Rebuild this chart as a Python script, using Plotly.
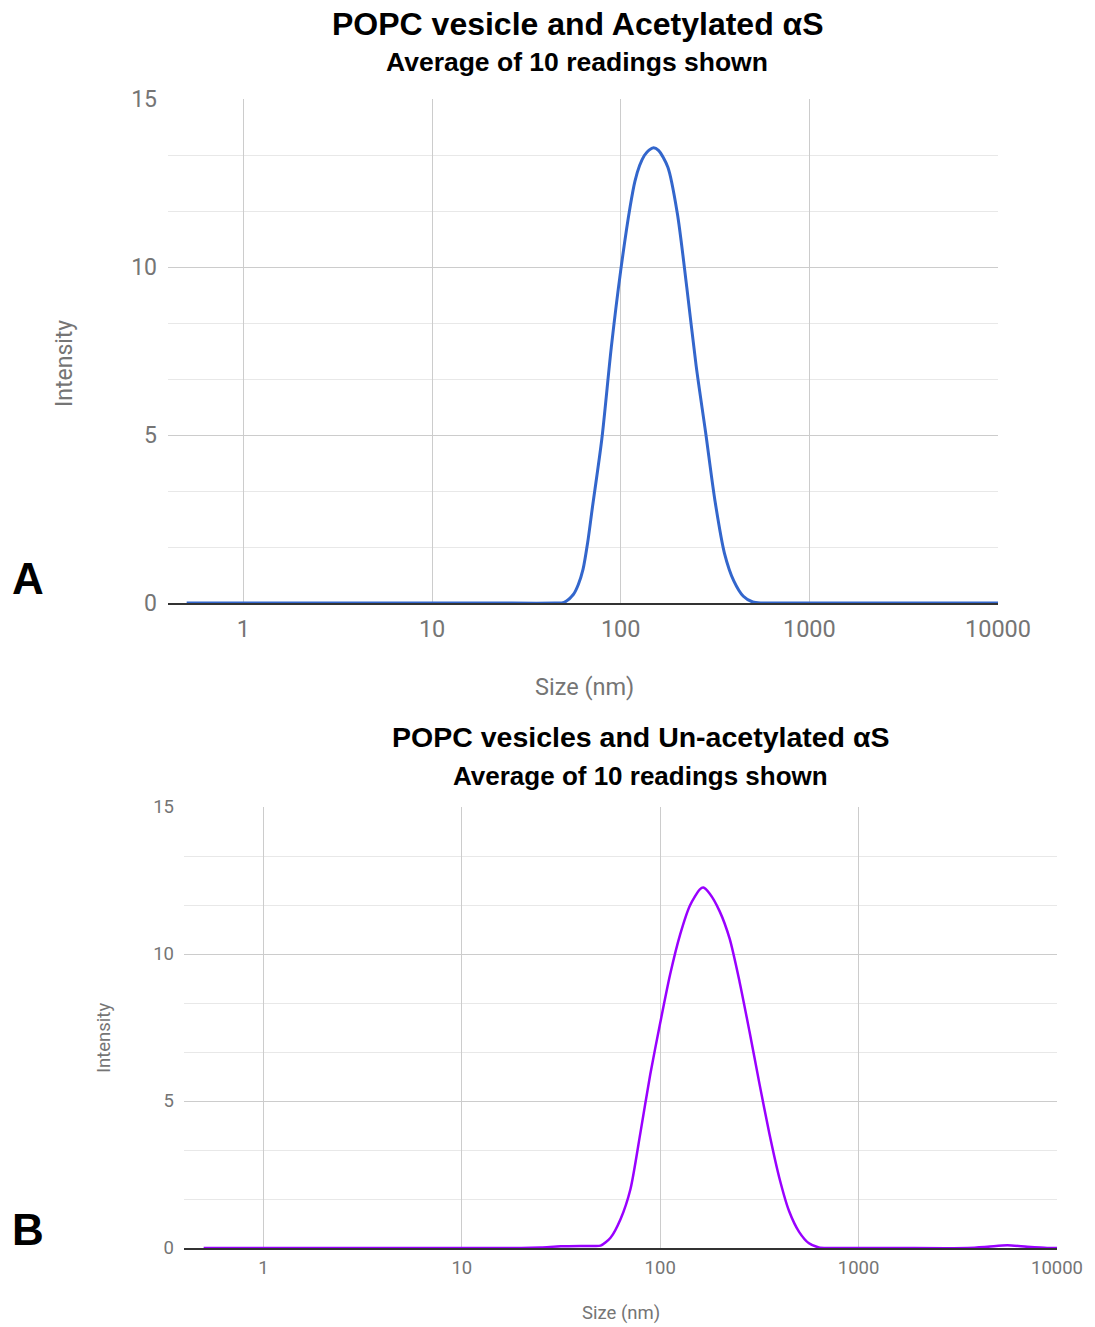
import plotly.graph_objects as go

# ---------------- Data ----------------
size_a = [0.5, 1, 5, 20, 44.7, 50.1, 56.2, 59.6, 63.1, 66.8, 70.8, 79.4, 89.1, 100, 112.2,
          118.9, 125.9, 133.4, 141.3, 149.3, 158.5, 177.8, 199.5, 223.9, 251.2, 281.8,
          316.2, 354.8, 398.1, 446.7, 501.2, 562.3, 700, 2000, 10000]
intensity_a = [0, 0, 0, 0, 0, 0.02, 0.26, 0.55, 1.0, 1.8, 2.85, 4.88, 7.6, 9.9, 11.8,
               12.55, 13.02, 13.32, 13.48, 13.55, 13.47, 12.97, 11.6, 9.4, 7.05, 5.08,
               3.03, 1.48, 0.65, 0.2, 0.03, 0, 0, 0, 0]

size_b = [0.5, 1, 5, 19.95, 25.1, 31.6, 39.8, 44.7, 50.1, 56.2, 63.1, 70.8, 79.4, 89.1,
          100, 112.2, 125.9, 141.3, 158.5, 165.0, 177.8, 199.5, 223.9, 251.2, 281.8,
          316.2, 354.8, 398.1, 446.7, 501.2, 562.3, 631, 707.9, 1500, 3548, 4467, 5623,
          7079, 8913, 10000]
intensity_b = [0, 0, 0, 0, 0.02, 0.06, 0.07, 0.07, 0.08, 0.35, 0.98, 2.0, 3.9, 5.9,
               7.65, 9.3, 10.65, 11.65, 12.2, 12.26, 12.05, 11.45, 10.52, 9.06, 7.37,
               5.6, 3.9, 2.4, 1.25, 0.55, 0.16, 0.02, 0, 0, 0, 0.04, 0.09, 0.04, 0, 0]

x_tick_vals = [1, 10, 100, 1000, 10000]
x_tick_text = ["1", "10", "100", "1000", "10000"]
y_tick_vals = [0, 5, 10, 15]

title_a = "POPC vesicle and Acetylated αS"
title_b = "POPC vesicles and Un-acetylated αS"
subtitle = "Average of 10 readings shown"
x_title = "Size (nm)"
y_title = "Intensity"

W, H = 1095, 1327

def px_x(x):
    return x / W

def px_y(y):
    return 1 - y / H

fig = go.Figure()
fig.add_trace(go.Scatter(x=size_a, y=intensity_a, mode="lines",
                         line=dict(color="#3366cc", width=3, shape="spline", smoothing=0.8),
                         xaxis="x", yaxis="y", showlegend=False))
fig.add_trace(go.Scatter(x=size_b, y=intensity_b, mode="lines",
                         line=dict(color="#9900ff", width=2.5, shape="spline", smoothing=0.7),
                         xaxis="x2", yaxis="y2", showlegend=False))

tick_gray = "#757575"
grid_major = "#cccccc"
grid_minor = "#e8e8e8"

def xaxis_cfg(domain, fs, anchor, standoff):
    return dict(type="log", domain=domain, range=[-0.4, 4], anchor=anchor, automargin=False,
                tickmode="array", tickvals=x_tick_vals, ticktext=x_tick_text,
                showgrid=True, gridcolor=grid_major, gridwidth=1,
                zeroline=False, showline=True, linecolor="#333333", linewidth=1.5,
                layer="below traces", ticks="", ticklabelstandoff=standoff,
                tickfont=dict(family="Roboto", size=fs, color=tick_gray))

def yaxis_cfg(domain, fs, anchor, standoff):
    return dict(domain=domain, range=[0, 15], anchor=anchor, automargin=False,
                tickmode="array", tickvals=y_tick_vals,
                showgrid=True, gridcolor=grid_major, gridwidth=1,
                minor=dict(dtick=5 / 3, tick0=0, showgrid=True, gridcolor=grid_minor,
                           gridwidth=1, ticks=""),
                zeroline=False, showline=False, ticks="", ticklabelstandoff=standoff,
                tickfont=dict(family="Roboto", size=fs, color=tick_gray))

fig.update_layout(
    width=W, height=H, autosize=False,
    margin=dict(l=0, r=0, t=0, b=0, pad=0),
    paper_bgcolor="white", plot_bgcolor="white",
    xaxis=xaxis_cfg([px_x(168), px_x(998)], 23.5, "y", 4),
    yaxis=yaxis_cfg([px_y(603), px_y(99)], 23, "x", 10),
    xaxis2=xaxis_cfg([px_x(184), px_x(1057)], 18.5, "y2", 2),
    yaxis2=yaxis_cfg([px_y(1248), px_y(807)], 18.5, "x2", 9),
)

ff = "Arial, Liberation Sans"
ann = []
ann.append(dict(text="<b>%s</b>" % title_a, x=px_x(577.5), y=px_y(24),
                font=dict(family=ff, size=32, color="black")))
ann.append(dict(text="<b>%s</b>" % subtitle, x=px_x(577), y=px_y(62),
                font=dict(family=ff, size=26.5, color="black")))
ann.append(dict(text="<b>%s</b>" % title_b, x=px_x(640), y=px_y(737),
                font=dict(family=ff, size=28.5, color="black")))
ann.append(dict(text="<b>%s</b>" % subtitle, x=px_x(640), y=px_y(776),
                font=dict(family=ff, size=26, color="black")))
ann.append(dict(text=x_title, x=px_x(584), y=px_y(687),
                font=dict(family="Roboto", size=23.5, color=tick_gray)))
ann.append(dict(text=y_title, x=px_x(64), y=px_y(364), textangle=-90,
                font=dict(family="Roboto", size=23, color=tick_gray)))
ann.append(dict(text=x_title, x=px_x(621), y=px_y(1313),
                font=dict(family="Roboto", size=18.5, color=tick_gray)))
ann.append(dict(text=y_title, x=px_x(104), y=px_y(1038), textangle=-90,
                font=dict(family="Roboto", size=18.5, color=tick_gray)))
panel_font = dict(family=ff, size=44, color="black")
ann.append(dict(text="<b>A</b>", x=px_x(28), y=px_y(578), font=panel_font))
ann.append(dict(text="<b>B</b>", x=px_x(27.5), y=px_y(1229), font=panel_font))

for a in ann:
    a.update(xref="paper", yref="paper", showarrow=False, xanchor="center", yanchor="middle")
fig.update_layout(annotations=ann)

fig.write_html("out.html", config={"displayModeBar": False},
               post_script="document.body.style.margin='0';document.body.style.overflow='hidden';")
